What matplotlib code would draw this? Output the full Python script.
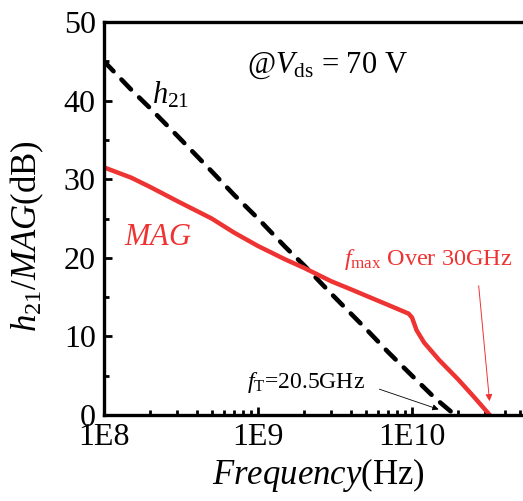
import matplotlib as mpl

mpl.use("Agg")

import matplotlib.pyplot as plt
from matplotlib.ticker import FixedLocator, FuncFormatter, LogLocator, MultipleLocator

plt.rcParams["font.family"] = "serif"
plt.rcParams["font.serif"] = ["Liberation Serif", "DejaVu Serif"]
plt.rcParams["mathtext.fontset"] = "custom"
plt.rcParams["mathtext.rm"] = "Liberation Serif"
plt.rcParams["mathtext.it"] = "Liberation Serif:italic"
plt.rcParams["mathtext.bf"] = "Liberation Serif:bold"

RED = "#EE3333"

# h21 (dashed black)
h21_freq = [1e8, 1.5e8, 2e8, 3e8, 5e8, 7e8, 1e9, 1.5e9, 2e9, 3e9, 5e9, 7e9, 1e10, 1.4e10, 1.85e10]
h21_db = [45.0, 41.4, 39.0, 35.5, 31.0, 28.0, 25.0, 21.4, 19.0, 15.4, 11.0, 8.0, 5.0, 2.2, 0.2]

# MAG (solid red)
mag_freq = [1e8, 1.5e8, 2e8, 3e8, 5e8, 7e8, 1e9, 1.5e9, 2e9, 3e9, 4e9, 5e9, 7e9, 9.5e9,
            1.0e10, 1.07e10, 1.2e10, 1.5e10, 2e10, 2.5e10, 3.2e10]
mag_db = [31.5, 30.2, 29.0, 27.2, 25.0, 23.2, 21.5, 19.8, 18.7, 17.0, 16.0, 15.2, 14.0, 12.9,
          12.4, 10.8, 9.2, 7.0, 4.5, 2.4, 0.0]

X_TICKS = [1e8, 1e9, 1e10]
X_TICK_LABELS = ["1E8", "1E9", "1E10"]

fig = plt.figure(figsize=(5.23, 5.01), dpi=100)
ax = fig.add_axes([104 / 523, 86 / 501, 428 / 523, 393 / 501])

ax.plot(h21_freq, h21_db, color="black", linewidth=3.3, linestyle=(0, (3.0, 2.5)),
        dash_capstyle="round")
ax.plot(mag_freq, mag_db, color=RED, linewidth=3.2, solid_joinstyle="round")

ax.set_xscale("log")
ax.set_xlim(1e8, 10 ** (8 + 428 / 154))
ax.set_ylim(0, 50)

ax.xaxis.set_major_locator(FixedLocator(X_TICKS))
ax.xaxis.set_major_formatter(FuncFormatter(lambda v, p: X_TICK_LABELS[X_TICKS.index(v)] if v in X_TICKS else ""))
ax.xaxis.set_minor_locator(LogLocator(base=10, subs=range(2, 10)))
ax.xaxis.set_minor_formatter(FuncFormatter(lambda v, p: ""))
ax.yaxis.set_major_locator(MultipleLocator(10))
ax.yaxis.set_minor_locator(MultipleLocator(5))

ax.tick_params(which="both", direction="in", top=False, right=False, width=2.0,
               labelsize=23, pad=6)
ax.tick_params(which="major", length=6)
ax.tick_params(which="minor", length=3.5)
for side in ["left", "bottom", "top", "right"]:
    ax.spines[side].set_linewidth(2.4)

ax.set_xlabel(r"$Frequency$(Hz)", fontsize=25, labelpad=3)
ax.set_ylabel(r"$h_{21}$/$MAG$(dB)", fontsize=25)
ax.yaxis.set_label_coords(-0.136, 0.455)

ax.text(8.5e8, 43.6, r"@$V_{\rm ds}$ = 70 V", fontsize=22, va="baseline")
ax.text(2.05e8, 39.6, r"$h_{21}$", fontsize=22, va="baseline")
ax.text(1.35e8, 21.6, r"$MAG$", fontsize=22, color=RED, va="baseline")
ax.text(3.6e9, 19.1, r"$f_{\rm max}$ Over 30GHz", fontsize=17.5, color=RED, va="baseline")
ax.text(8.5e8, 3.4, r"$f_{\rm T}$=20.5GHz", fontsize=17, va="baseline")

ax.annotate("", xy=(3.2e10, 1.4), xytext=(2.7e10, 16.8),
            arrowprops=dict(arrowstyle="-|>", color=RED, lw=0.7, mutation_scale=10))
ax.annotate("", xy=(1.55e10, 0.6), xytext=(5.9e9, 3.4),
            arrowprops=dict(arrowstyle="-|>", color="black", lw=0.6, mutation_scale=9))

fig.savefig("out.png", dpi=100)
